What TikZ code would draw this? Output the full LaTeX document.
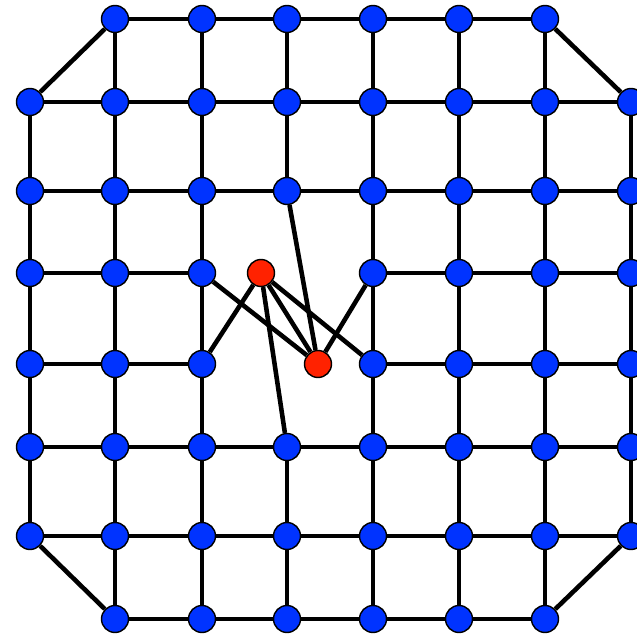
\documentclass[tikz,border=0pt]{standalone}
\usepackage{tikz}
\usepackage{xcolor}
\definecolor{gridblue}{HTML}{0033FF}
\definecolor{gridred}{HTML}{FF2200}

\begin{document}
\begin{tikzpicture}[x=0.02cm, y=-0.02cm,
    vtx/.style={circle, draw=black, line width=0.8pt, fill=gridblue,
                minimum size=0.54cm, inner sep=0pt},
    hot/.style={vtx, fill=gridred},
    edge/.style={line width=2.6pt, black}]
    \useasboundingbox (0,0) rectangle (637,635);
    % ROW A
    \node[vtx] (a2) at (115,19) {}; \node[vtx] (a3) at (202,19) {};
    \node[vtx] (a4) at (287,19) {}; \node[vtx] (a5) at (373,19) {};
    \node[vtx] (a6) at (459,19) {}; \node[vtx] (a7) at (545,19) {};
    % ROW B
    \node[vtx] (b1) at (30,102) {};  \node[vtx] (b2) at (115,102) {};
    \node[vtx] (b3) at (202,102) {}; \node[vtx] (b4) at (287,102) {};
    \node[vtx] (b5) at (373,102) {}; \node[vtx] (b6) at (459,102) {};
    \node[vtx] (b7) at (545,102) {}; \node[vtx] (b8) at (631,102) {};
    % ROW C
    \node[vtx] (c1) at (30,191) {};  \node[vtx] (c2) at (115,191) {};
    \node[vtx] (c3) at (202,191) {}; \node[vtx] (c4) at (287,191) {};
    \node[vtx] (c5) at (373,191) {}; \node[vtx] (c6) at (459,191) {};
    \node[vtx] (c7) at (545,191) {}; \node[vtx] (c8) at (631,191) {};
    % ROW D
    \node[vtx] (d1) at (30,273) {};  \node[vtx] (d2) at (115,273) {};
    \node[vtx] (d3) at (202,273) {}; \node[vtx] (d5) at (373,273) {};
    \node[vtx] (d6) at (459,273) {}; \node[vtx] (d7) at (545,273) {};
    \node[vtx] (d8) at (631,273) {};
    % ROW E
    \node[vtx] (e1) at (30,364) {};  \node[vtx] (e2) at (115,364) {};
    \node[vtx] (e3) at (202,364) {}; \node[vtx] (e5) at (373,364) {};
    \node[vtx] (e6) at (459,364) {}; \node[vtx] (e7) at (545,364) {};
    \node[vtx] (e8) at (631,364) {};
    % ROW F
    \node[vtx] (f1) at (30,447) {};  \node[vtx] (f2) at (115,447) {};
    \node[vtx] (f3) at (202,447) {}; \node[vtx] (f4) at (287,447) {};
    \node[vtx] (f5) at (373,447) {}; \node[vtx] (f6) at (459,447) {};
    \node[vtx] (f7) at (545,447) {}; \node[vtx] (f8) at (631,447) {};
    % ROW G
    \node[vtx] (g1) at (30,536) {};  \node[vtx] (g2) at (115,536) {};
    \node[vtx] (g3) at (202,536) {}; \node[vtx] (g4) at (287,536) {};
    \node[vtx] (g5) at (373,536) {}; \node[vtx] (g6) at (459,536) {};
    \node[vtx] (g7) at (545,536) {}; \node[vtx] (g8) at (631,536) {};
    % ROW H
    \node[vtx] (h2) at (115,619) {}; \node[vtx] (h3) at (202,619) {};
    \node[vtx] (h4) at (287,619) {}; \node[vtx] (h5) at (373,619) {};
    \node[vtx] (h6) at (459,619) {}; \node[vtx] (h7) at (545,619) {};
    % RED PAIR
    \node[hot] (r1) at (261,273) {};
    \node[hot] (r2) at (318,364) {};
    % horizontal edges
    \draw[edge] (a2) -- (a3) -- (a4) -- (a5) -- (a6) -- (a7);
    \draw[edge] (b1) -- (b2) -- (b3) -- (b4) -- (b5) -- (b6) -- (b7) -- (b8);
    \draw[edge] (c1) -- (c2) -- (c3) -- (c4) -- (c5) -- (c6) -- (c7) -- (c8);
    \draw[edge] (d1) -- (d2) -- (d3);
    \draw[edge] (d5) -- (d6) -- (d7) -- (d8);
    \draw[edge] (e1) -- (e2) -- (e3);
    \draw[edge] (e5) -- (e6) -- (e7) -- (e8);
    \draw[edge] (f1) -- (f2) -- (f3) -- (f4) -- (f5) -- (f6) -- (f7) -- (f8);
    \draw[edge] (g1) -- (g2) -- (g3) -- (g4) -- (g5) -- (g6) -- (g7) -- (g8);
    \draw[edge] (h2) -- (h3) -- (h4) -- (h5) -- (h6) -- (h7);
    % vertical edges
    \draw[edge] (b1) -- (c1) -- (d1) -- (e1) -- (f1) -- (g1);
    \draw[edge] (a2) -- (b2) -- (c2) -- (d2) -- (e2) -- (f2) -- (g2) -- (h2);
    \draw[edge] (a3) -- (b3) -- (c3) -- (d3) -- (e3) -- (f3) -- (g3) -- (h3);
    \draw[edge] (a4) -- (b4) -- (c4);
    \draw[edge] (f4) -- (g4) -- (h4);
    \draw[edge] (a5) -- (b5) -- (c5) -- (d5) -- (e5) -- (f5) -- (g5) -- (h5);
    \draw[edge] (a6) -- (b6) -- (c6) -- (d6) -- (e6) -- (f6) -- (g6) -- (h6);
    \draw[edge] (a7) -- (b7) -- (c7) -- (d7) -- (e7) -- (f7) -- (g7) -- (h7);
    \draw[edge] (b8) -- (c8) -- (d8) -- (e8) -- (f8) -- (g8);
    % corners
    \draw[edge] (a2) -- (b1);
    \draw[edge] (a7) -- (b8);
    \draw[edge] (g1) -- (h2);
    \draw[edge] (g8) -- (h7);
    % edges of the red pair
    \draw[edge] (c4) -- (r2);
    \draw[edge] (d3) -- (r2);
    \draw[edge] (d5) -- (r2);
    \draw[edge] (r1) -- (r2);
    \draw[edge] (r1) -- (e3);
    \draw[edge] (r1) -- (f4);
    \draw[edge] (r1) -- (e5);
\end{tikzpicture}
\end{document}
